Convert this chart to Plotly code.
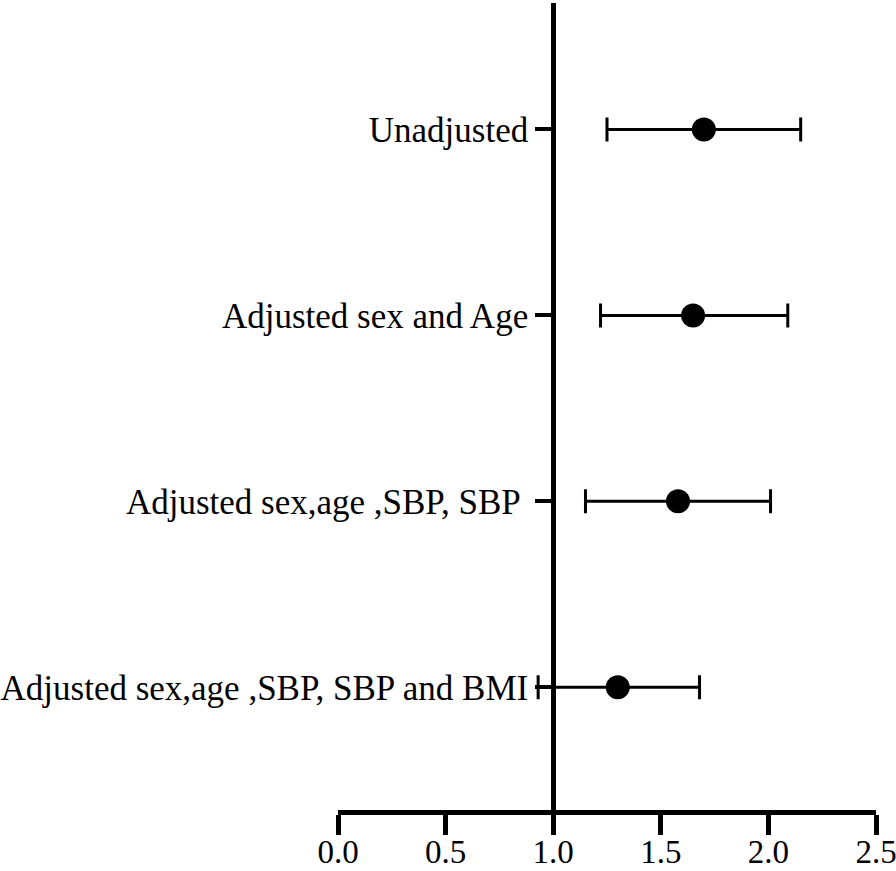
import plotly.graph_objects as go

# models (top to bottom) and odds ratios with 95% CI
labels = ["Unadjusted",
          "Adjusted sex and Age",
          "Adjusted sex,age ,SBP, SBP ",
          "Adjusted sex,age ,SBP, SBP and BMI"]
or_vals = [1.70, 1.65, 1.58, 1.30]
ci_low = [1.25, 1.22, 1.15, 0.93]
ci_high = [2.15, 2.09, 2.01, 1.68]
y_pos = [4, 3, 2, 1]

x_ticks = [0.0, 0.5, 1.0, 1.5, 2.0, 2.5]

font = "Liberation Serif, Times New Roman, serif"

fig = go.Figure()
fig.add_trace(go.Scatter(
    x=or_vals, y=y_pos, mode="markers",
    marker=dict(size=24, color="black", symbol="circle"),
    error_x=dict(type="data", symmetric=False,
                 array=[h - v for h, v in zip(ci_high, or_vals)],
                 arrayminus=[v - l for v, l in zip(or_vals, ci_low)],
                 color="black", thickness=3, width=12),
    showlegend=False,
))

fig.update_layout(
    width=896, height=871,
    margin=dict(l=338, r=20, t=3, b=61, autoexpand=False),
    plot_bgcolor="white", paper_bgcolor="white",
    font=dict(family=font, size=35, color="black"),
    xaxis=dict(range=[0, 2.5], tickvals=x_ticks,
               ticktext=["%.1f" % t for t in x_ticks],
               showgrid=False, zeroline=False, automargin=False,
               ticklabeloverflow="allow", ticklabelstandoff=-12,
               showline=True, linewidth=5, linecolor="black",
               ticks="outside", ticklen=20, tickwidth=5, tickcolor="black",
               tickfont=dict(size=33, family=font)),
    yaxis=dict(range=[0.34, 4.68], tickvals=y_pos, ticktext=labels,
               anchor="free", position=0.4, automargin=False,
               showgrid=False, zeroline=False,
               showline=True, linewidth=5, linecolor="black",
               ticks="outside", ticklen=16, tickwidth=4, tickcolor="black",
               tickfont=dict(size=35, family=font)),
)

# drop the page's default body margin so the figure sits at the corner
fig.write_html("out.html", config={"displayModeBar": False},
               post_script="document.body.style.margin='0';")
